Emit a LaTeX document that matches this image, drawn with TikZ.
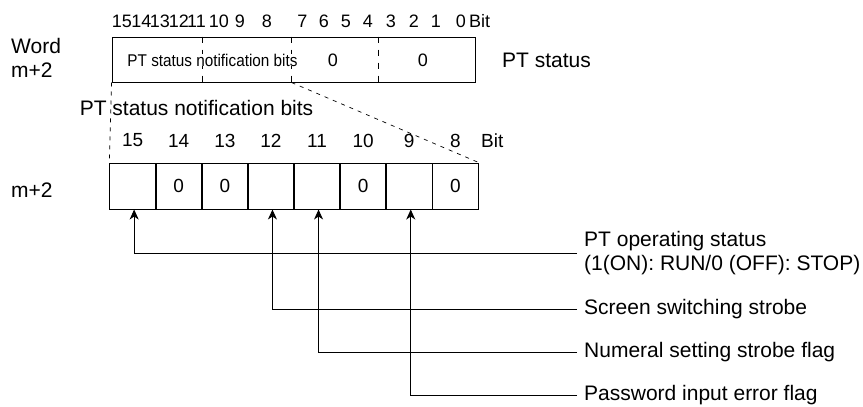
\documentclass[tikz,border=0pt]{standalone}
\usepackage{fontspec}
\setmainfont{Liberation Sans}
\newfontfamily\narrowfont[FakeStretch=0.9]{Liberation Sans}
\usetikzlibrary{arrows.meta,matrix}
\newlength{\CellWidth}
\newlength{\CellHeight}
\newlength{\LabelGap}
\setlength{\CellWidth}{45.5pt}
\setlength{\CellHeight}{46pt}
\setlength{\LabelGap}{22pt}
\tikzset{
  reg cell/.style={draw, rectangle, line width=1pt, minimum width=\CellWidth, minimum height=\CellHeight, inner sep=0pt, anchor=center, font=\fontsize{19}{22}\selectfont},
  word box/.style={draw, rectangle, line width=1pt, minimum width=363pt, minimum height=45pt, inner sep=0pt},
  divider/.style={line width=0.8pt, dash pattern=on 6pt off 7pt},
  guide/.style={line width=0.7pt, dash pattern=on 4pt off 5pt},
  main text/.style={draw=none, inner sep=0pt, font=\fontsize{21}{24}\selectfont},
  narrow text/.style={draw=none, fill=white, inner sep=0pt, font=\narrowfont\fontsize{17}{20}\selectfont},
  bit top/.style={draw=none, inner sep=0pt, font=\fontsize{18}{20}\selectfont},
  bit num/.style={draw=none, inner sep=0pt, font=\fontsize{19}{22}\selectfont},
  flag text/.style={draw=none, anchor=west, inner xsep=7pt, inner ysep=0pt, align=left, font=\fontsize{21}{24}\selectfont},
  pointer/.style={line width=0.9pt, -{Stealth[length=10pt, width=9pt, inset=3pt]}}
}

\begin{document}
\begin{tikzpicture}[x=1pt, y=-1pt]
  \useasboundingbox (0,0) rectangle (863,407);

  % word m+2, all 16 bits
  \node[word box] (stat) at (293.5,59.5) {};
  \foreach \dx in {91,180,267} {
    \draw[divider] ([xshift=\dx]stat.north west) -- ([xshift=\dx]stat.south west);
  }
  \node[narrow text] (notif) at (212.5,60) {PT status notification bits};
  \node[main text, font=\fontsize{18}{21}\selectfont] (zlo) at (333,60) {0};
  \node[main text, font=\fontsize{18}{21}\selectfont] (zhi) at (423,60) {0};

  \foreach \b/\x in {15/122,14/141.5,13/160,12/179,11/196.5,10/219,9/240,8/267,
                     7/302.5,6/324,5/346,4/368,3/391,2/414,1/436,0/461} {
    \node[bit top] (tb\b) at (\x,21) {\b};
  }
  \node[bit top, anchor=west] (tbit) at (469,21) {Bit};

  \node[main text, anchor=west, align=left] (word) at (11,58) {Word\\m+2};
  \node[main text, anchor=west] (pts) at (502,60) {PT status};

  % bits 15..8 in detail
  \node[main text] (notif2) at (196.5,107.5) {PT status notification bits};

  \matrix (reg) [
    matrix of nodes,
    nodes={reg cell},
    nodes in empty cells,
    column sep=-\pgflinewidth,
    anchor=center
  ] at (294,186) {
     & 0 & 0 & & & 0 & & 0 \\
  };

  \foreach \i in {1,...,8} {
    \pgfmathtruncatemacro{\b}{16-\i}
    \node[bit num] (bn\b) at ([yshift=\LabelGap]reg-1-\i.north) {\b};
  }
  \node[bit num, anchor=west] (bbit) at (481,141) {Bit};
  \node[main text, anchor=west] (word2) at (11,190) {m+2};

  \draw[guide] (stat.south west) -- (reg-1-1.north west);
  \draw[guide] ([xshift=180]stat.south west) -- (reg-1-8.north east);

  % flag labels
  \node[flag text] (run)  at (577,253) {PT operating status\\(1(ON): RUN/0 (OFF): STOP)};
  \node[flag text] (scr)  at (577,309) {Screen switching strobe};
  \node[flag text] (num)  at (577,352) {Numeral setting strobe flag};
  \node[flag text] (pass) at (577,395) {Password input error flag};

  \draw[pointer] (run.west)  -| ([xshift=1.5pt]reg-1-1.south);
  \draw[pointer] (scr.west)  -| ([xshift=1.5pt]reg-1-4.south);
  \draw[pointer] (num.west)  -| ([xshift=1.5pt]reg-1-5.south);
  \draw[pointer] (pass.west) -| ([xshift=1.5pt]reg-1-7.south);
\end{tikzpicture}
\end{document}
